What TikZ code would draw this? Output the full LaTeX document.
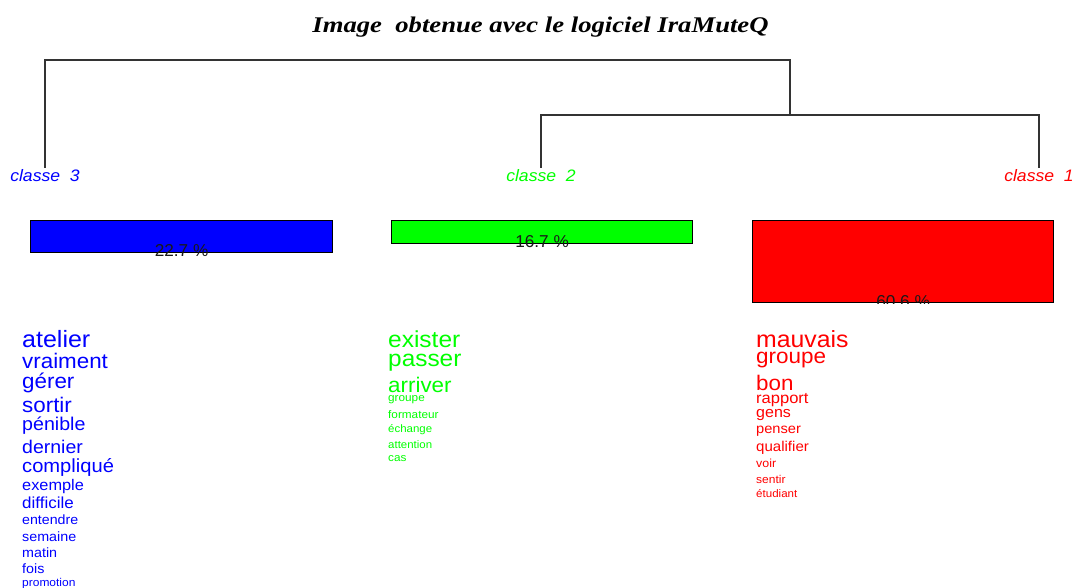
\documentclass[tikz,border=0pt]{standalone}
\usepackage{fontspec}
\setmainfont{Liberation Sans}
\newfontfamily\titlefont{Liberation Serif}
% font size in pt, and a slight horizontal stretch of the plot texts
\newcommand\wsz[1]{\fontsize{#1}{#1}\selectfont}
\newcommand\sx[1]{\scalebox{1.06}[1]{#1}}

\begin{document}
\begin{tikzpicture}[x=1pt,y=-1pt,
  word/.style={anchor=base west, inner sep=0pt},
  leaf/.style={anchor=base, inner xsep=0pt, inner ysep=2.2pt, font=\itshape\wsz{16.6}},
  bar/.style={draw=black, line width=1.2pt, anchor=north west, inner sep=0pt},
  pct/.style={inner sep=0pt, text=black!90, font=\wsz{17.2}},
  tree/.style={draw=black!80, line width=1.2pt}]

\useasboundingbox (0,0) rectangle (1074,588);
\fill[white] (0,0) rectangle (1074,588);

% title
\node[anchor=base, inner sep=0pt] (title) at (540.5,33)
  {\titlefont\bfseries\itshape\wsz{22.4}\scalebox{1.19}[1]{Image\ \ obtenue avec le logiciel IraMuteQ}};

% leaves of the dendrogram
\node[leaf, text=blue] (c3) at (45,182) {\sx{classe\ \ 3}};
\node[leaf, text=green] (c2) at (541,182) {\sx{classe\ \ 2}};
\node[leaf, text=red] (c1) at (1039,182) {\sx{classe\ \ 1}};
\coordinate (root) at (790,60);
\coordinate (j12) at (790,115);

% dendrogram branches
\draw[tree] (c3.north) |- (root) -- (j12);
\draw[tree] (c2.north) |- (j12) -| (c1.north);

% class size bars
\node[bar, fill=blue, minimum width=302pt, minimum height=32pt] (b3) at (30,220) {};
\node[bar, fill=green, minimum width=301pt, minimum height=23pt] (b2) at (391,220) {};
\node[bar, fill=red, minimum width=301pt, minimum height=82pt] (b1) at (752,220) {};

\node[pct] (p3) at ([yshift=2.4pt]b3.south) {22.7 \%};
\node[pct] (p2) at ([yshift=2.4pt]b2.south) {16.7 \%};
\begin{scope}
  \clip (b1.north west) rectangle (b1.south east);
  \node[pct] (p1) at ([yshift=1.2pt]b1.south) {60.6 \%};
\end{scope}

% words of class 3
\begin{scope}[every node/.style={word, text=blue}]
\node (w3a) at (22,347) {\wsz{23.6}\sx{atelier}};
\node (w3b) at (22,368) {\wsz{21.1}\sx{vraiment}};
\node (w3c) at (22,388) {\wsz{21.1}\sx{gérer}};
\node (w3d) at (22,412) {\wsz{21.1}\sx{sortir}};
\node (w3e) at (22,430) {\wsz{18.5}\sx{pénible}};
\node (w3f) at (22,453) {\wsz{18.4}\sx{dernier}};
\node (w3g) at (22,472) {\wsz{19}\sx{compliqué}};
\node (w3h) at (22,490) {\wsz{15.4}\sx{exemple}};
\node (w3i) at (22,508) {\wsz{16}\sx{difficile}};
\node (w3j) at (22,524) {\wsz{13.4}\sx{entendre}};
\node (w3k) at (22,541) {\wsz{13.5}\sx{semaine}};
\node (w3l) at (22,557) {\wsz{13.5}\sx{matin}};
\node (w3m) at (22,573) {\wsz{13.5}\sx{fois}};
\node (w3n) at (22,586) {\wsz{11.3}\sx{promotion}};
\end{scope}

% words of class 2
\begin{scope}[every node/.style={word, text=green}]
\node (w2a) at (388,347) {\wsz{23.1}\sx{exister}};
\node (w2b) at (388,366) {\wsz{23}\sx{passer}};
\node (w2c) at (388,392) {\wsz{21.1}\sx{arriver}};
\node (w2d) at (388,401) {\wsz{11.1}\sx{groupe}};
\node (w2e) at (388,418) {\wsz{11.1}\sx{formateur}};
\node (w2f) at (388,432) {\wsz{10.8}\sx{échange}};
\node (w2g) at (388,448) {\wsz{10.8}\sx{attention}};
\node (w2h) at (388,461) {\wsz{11.1}\sx{cas}};
\end{scope}

% words of class 1
\begin{scope}[every node/.style={word, text=red}]
\node (w1a) at (756,347) {\wsz{23.4}\sx{mauvais}};
\node (w1b) at (756,363) {\wsz{21.2}\sx{groupe}};
\node (w1c) at (756,390) {\wsz{21.1}\sx{bon}};
\node (w1d) at (756,403) {\wsz{15.6}\sx{rapport}};
\node (w1e) at (756,417) {\wsz{15.1}\sx{gens}};
\node (w1f) at (756,433) {\wsz{13.8}\sx{penser}};
\node (w1g) at (756,451) {\wsz{14.2}\sx{qualifier}};
\node (w1h) at (756,467) {\wsz{11.7}\sx{voir}};
\node (w1i) at (756,483) {\wsz{11.3}\sx{sentir}};
\node (w1j) at (756,497) {\wsz{10.9}\sx{étudiant}};
\end{scope}
\end{tikzpicture}
\end{document}
